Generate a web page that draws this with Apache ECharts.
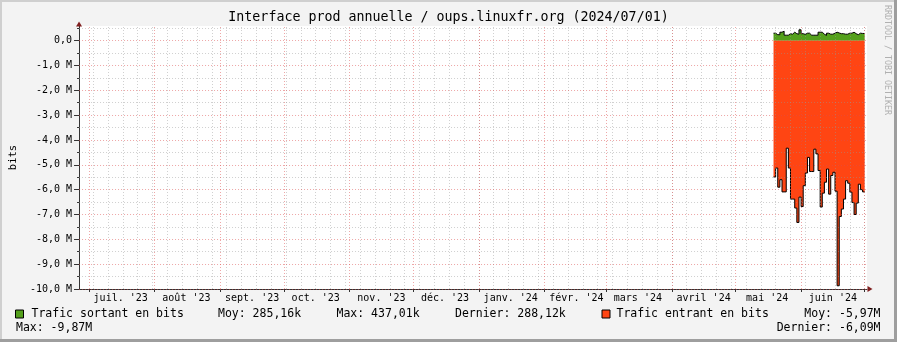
<!DOCTYPE html>
<html><head><meta charset="utf-8">
<script src="https://cdn.jsdelivr.net/npm/echarts@6/dist/echarts.min.js"></script>
<style>html,body{margin:0;padding:0;background:#f3f3f3}#c{width:897px;height:342px}</style>
</head><body><div id="c"></div>
<script>
// ---- data (x unit = days since 2023-07-01) ----
const monthLabels = ["juil. '23","août '23","sept. '23","oct. '23","nov. '23","déc. '23","janv. '24","févr. '24","mars '24","avril '24","mai '24","juin '24"];
const monthStartDays = [0,31,62,92,123,153,184,215,244,275,305,336,366];
const firstDataDay = 323; // 2024-05-19, one value per day
const outBits = [300e3,240e3,240e3,340e3,380e3,220e3,220e3,280e3,260e3,340e3,280e3,260e3,437e3,280e3,250e3,300e3,300e3,220e3,220e3,220e3,220e3,340e3,340e3,260e3,210e3,300e3,260e3,260e3,300e3,340e3,310e3,280e3,280e3,260e3,260e3,300e3,300e3,340e3,280e3,240e3,300e3,290e3,288e3];
const inBits = [-5.49e6,-5.13e6,-5.9e6,-5.6e6,-6.09e6,-6.09e6,-4.33e6,-5.13e6,-6.38e6,-6.38e6,-6.74e6,-7.32e6,-6.3e6,-6.68e6,-5.84e6,-5.33e6,-4.7e6,-5.27e6,-5.27e6,-4.37e6,-4.56e6,-5.23e6,-6.7e6,-6.14e6,-5.7e6,-5.17e6,-6.18e6,-5.43e6,-5.3e6,-6.06e6,-9.87e6,-7.08e6,-6.78e6,-6.38e6,-5.64e6,-5.74e6,-6.1e6,-6.52e6,-7.0e6,-6.54e6,-5.78e6,-6.0e6,-6.09e6];
const yTicks = [0,-1e6,-2e6,-3e6,-4e6,-5e6,-6e6,-7e6,-8e6,-9e6,-10e6];
const outName = 'Trafic sortant en bits';
const inName = 'Trafic entrant en bits';
const outStats = ['Moy: 285,16k','Max: 437,01k','Dernier: 288,12k'];
const inStats = ['Moy: -5,97M','Max: -9,87M','Dernier: -6,09M'];

// ---- layout / style ----
const X_MIN = -4.65, X_MAX = 367.1;
const Y_MIN = -10e6, Y_MAX = 0.59e6;
const GREEN = '#54a01c', RED = '#ff4513';
const GRID_GRAY = 'rgba(150,150,150,0.45)', GRID_RED = 'rgba(222,79,79,0.5)';
const MONO = '"DejaVu Sans Mono", monospace';

function stepData(vals) {
  const d = vals.map((v, i) => [firstDataDay + i, v]);
  d.push([firstDataDay + vals.length, vals[vals.length - 1]]);
  return d;
}
const weekDays = []; for (let d = 2; d <= X_MAX; d += 7) weekDays.push(d);
const halfSteps = []; for (let k = -20; k <= 1; k++) halfSteps.push(k * 0.5e6);
const gridLines = [];
weekDays.forEach(d => gridLines.push({xAxis: d, lineStyle: {color: GRID_GRAY, type: [1, 2], width: 1}}));
halfSteps.forEach(v => gridLines.push({yAxis: v, lineStyle: {color: (Math.round(v / 0.5e6) % 2 === 0) ? GRID_RED : GRID_GRAY, type: [1, 2], width: 1}}));
monthStartDays.forEach(d => gridLines.push({xAxis: d, lineStyle: {color: GRID_RED, type: [1, 2], width: 1}}));

const fmtY = v => v === 0 ? '0,0' : (v / 1e6).toFixed(1).replace('.', ',') + ' M';
const labelDays = monthStartDays.slice(0, 12).map(d => d + 15);

const chart = echarts.init(document.getElementById('c'), null, {renderer: 'canvas', width: 897, height: 342});
const txt = (text, x, y, align) => ({type: 'text', silent: true, style: {text, x, y, align: align || 'left', verticalAlign: 'middle', fontFamily: MONO, fontSize: 11.5, fill: '#000'}});

chart.setOption({
  animation: false,
  backgroundColor: '#f3f3f3',
  grid: {left: 67, right: 30, top: 26, bottom: 53, show: true, backgroundColor: '#ffffff', borderWidth: 0},
  xAxis: [
    {type: 'value', min: X_MIN, max: X_MAX,
     axisLine: {show: true, onZero: false, lineStyle: {color: '#333', width: 1}},
     axisTick: {show: true, customValues: monthStartDays, length: 3, lineStyle: {color: '#333'}},
     axisLabel: {show: true, customValues: labelDays, margin: 4, fontFamily: MONO, fontSize: 10, color: '#000',
       formatter: v => monthLabels[labelDays.indexOf(v)] || ''},
     splitLine: {show: false}},
    {type: 'value', min: X_MIN, max: X_MAX, position: 'bottom',
     axisLine: {show: true, onZero: false, symbol: ['none', 'triangle'], symbolSize: [6, 5], symbolOffset: [0, 3], lineStyle: {color: '#801f1f', width: 0}},
     axisTick: {show: false}, axisLabel: {show: false}, splitLine: {show: false}}
  ],
  yAxis: [
    {type: 'value', min: Y_MIN, max: Y_MAX,
     name: 'bits', nameLocation: 'middle', nameRotate: 90, nameGap: 56,
     nameTextStyle: {fontFamily: MONO, fontSize: 10.5, color: '#000'},
     axisLine: {show: true, onZero: false, lineStyle: {color: '#333', width: 1}},
     axisTick: {show: true, customValues: yTicks, length: 5, lineStyle: {color: '#333'}},
     axisLabel: {show: true, customValues: yTicks, margin: 7, fontFamily: MONO, fontSize: 10, color: '#000', formatter: fmtY},
     splitLine: {show: false}},
    {type: 'value', min: Y_MIN, max: Y_MAX, position: 'left',
     axisLine: {show: false, onZero: false},
     axisTick: {show: true, customValues: halfSteps.filter(v => Math.round(v / 0.5e6) % 2 !== 0), length: 2, lineStyle: {color: '#333'}},
     axisLabel: {show: false}, splitLine: {show: false}},
    {type: 'value', min: Y_MIN, max: Y_MAX, position: 'left',
     axisLine: {show: true, onZero: false, symbol: ['none', 'triangle'], symbolSize: [6, 5], symbolOffset: [0, 2], lineStyle: {color: '#801f1f', width: 0}},
     axisTick: {show: false}, axisLabel: {show: false}, splitLine: {show: false}}
  ],
  legend: [
    {data: [outName], left: 15, top: 308, itemWidth: 8, itemHeight: 8, icon: 'rect', selectedMode: false, padding: 0,
     itemStyle: {borderColor: '#000', borderWidth: 1},
     textStyle: {fontFamily: MONO, fontSize: 11.5, color: '#000', padding: [0, 0, 0, 3]}},
    {data: [inName], left: 601.5, top: 308, itemWidth: 8, itemHeight: 8, icon: 'rect', selectedMode: false, padding: 0,
     itemStyle: {borderColor: '#000', borderWidth: 1},
     textStyle: {fontFamily: MONO, fontSize: 11.5, color: '#000', padding: [0, 0, 0, 1.5]}}
  ],
  series: [
    {name: outName, type: 'line', step: 'end', data: stepData(outBits), showSymbol: false, color: GREEN,
     lineStyle: {color: '#000', width: 1}, areaStyle: {color: GREEN, opacity: 1}, z: 2, silent: true},
    {name: inName, type: 'line', step: 'end', data: stepData(inBits), showSymbol: false, color: RED,
     lineStyle: {color: '#000', width: 1}, areaStyle: {color: RED, opacity: 1}, z: 2, silent: true},
    {name: 'grid', type: 'line', data: [], z: 4, silent: true,
     markLine: {silent: true, symbol: ['none', 'none'], label: {show: false}, animation: false, emphasis: {disabled: true}, data: gridLines}}
  ],
  graphic: [
    {type: 'rect', silent: true, shape: {x: 0, y: 0, width: 897, height: 2}, style: {fill: '#cfcfcf'}},
    {type: 'rect', silent: true, shape: {x: 0, y: 0, width: 2, height: 342}, style: {fill: '#cfcfcf'}},
    {type: 'rect', silent: true, shape: {x: 0, y: 339, width: 897, height: 3}, style: {fill: '#9e9e9e'}},
    {type: 'rect', silent: true, shape: {x: 894, y: 0, width: 3, height: 342}, style: {fill: '#9e9e9e'}},
    {type: 'text', silent: true, style: {text: 'Interface prod annuelle / oups.linuxfr.org (2024/07/01)', x: 448.5, y: 18, align: 'center', verticalAlign: 'middle', fontFamily: MONO, fontSize: 13.3, fill: '#000'}},
    {type: 'text', silent: true, x: 887, y: 5, rotation: -Math.PI / 2, style: {text: 'RRDTOOL / TOBI OETIKER', x: 0, y: 0, align: 'left', verticalAlign: 'middle', fontFamily: MONO, fontSize: 8.3, fill: '#b0b0b0'}},
    txt(outStats[0], 218, 314), txt(outStats[1], 336.5, 314), txt(outStats[2], 455, 314),
    txt(inStats[0], 880.5, 314, 'right'),
    txt(inStats[1], 16, 328), txt(inStats[2], 880.5, 328, 'right')
  ]
});
</script></body></html>
